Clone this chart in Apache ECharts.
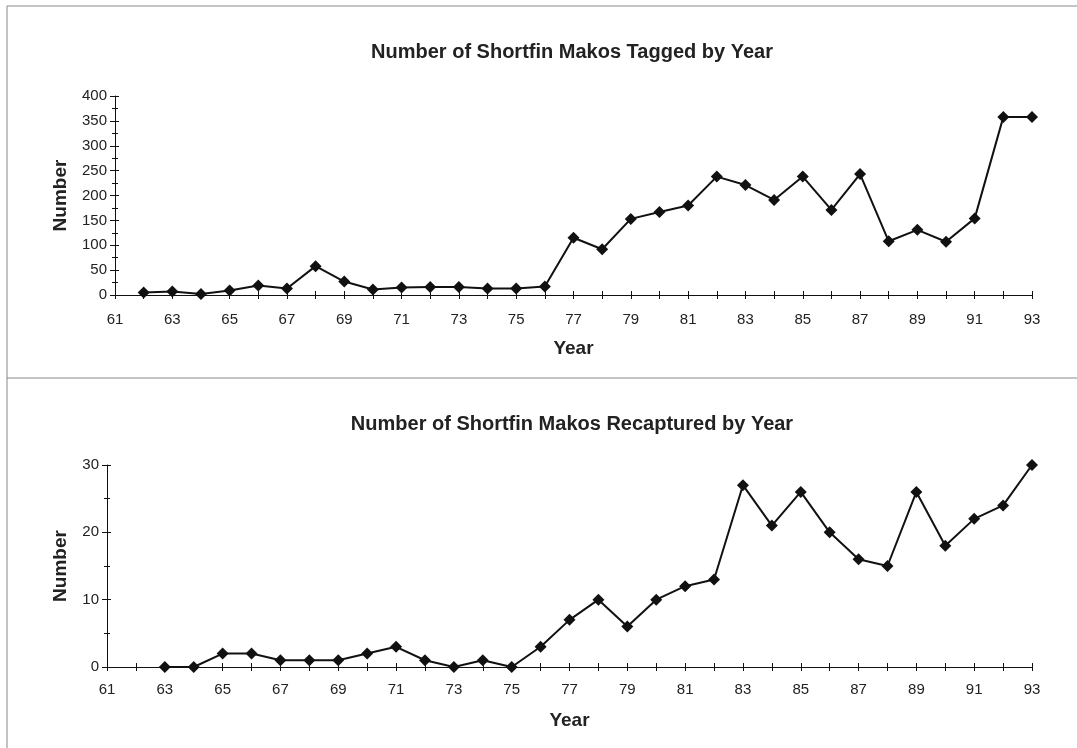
<!DOCTYPE html>
<html>
<head>
<meta charset="utf-8">
<script src="https://cdn.jsdelivr.net/npm/echarts@6/dist/echarts.min.js"></script>
<style>
html,body{margin:0;padding:0;background:#fff;}
#chart{width:1077px;height:748px;}
</style>
</head>
<body>
<div id="chart"></div>
<script>
const years = ['61','62','63','64','65','66','67','68','69','70','71','72','73','74','75','76','77','78','79','80','81','82','83','84','85','86','87','88','89','90','91','92','93'];
const tagged = [null,5,7,2,9,19,13,58,27,11,15,16,16,13,13,17,115,92,153,167,180,238,221,191,238,171,243,108,131,107,154,358,358];
const recaptured = [null,null,0,0,2,2,1,1,1,2,3,1,0,1,0,3,7,10,6,10,12,13,27,21,26,20,16,15,26,18,22,24,30];
const titles = ['Number of Shortfin Makos Tagged by Year','Number of Shortfin Makos Recaptured by Year'];
const xName = 'Year';
const yName = 'Number';

const FONT = 'Liberation Sans, Arial, sans-serif';
const chart = echarts.init(document.getElementById('chart'), null, {renderer:'canvas'});

function xAxes(grid,margin){
  return [
    {type:'category', gridIndex:grid, data:years, boundaryGap:false,
     axisLine:{lineStyle:{color:'#111',width:1}},
     axisTick:{show:true,interval:0,length:4,lineStyle:{color:'#111'}},
     axisLabel:{interval:1,color:'#222',fontSize:15,fontFamily:FONT,margin:margin},
     name:xName,nameLocation:'middle',nameGap:44,
     nameTextStyle:{fontWeight:'bold',fontSize:19,color:'#222',fontFamily:FONT},
     splitLine:{show:false}},
    {type:'category', gridIndex:grid, data:years, boundaryGap:false, position:'bottom',
     axisLine:{show:false},
     axisTick:{show:true,inside:true,interval:0,length:4,lineStyle:{color:'#111'}},
     axisLabel:{show:false}, splitLine:{show:false}}
  ];
}
function yAxes(grid,max,interval,minorSplit,gap){
  return [
    {type:'value', gridIndex:grid, min:0, max:max, interval:interval,
     axisLine:{show:true,lineStyle:{color:'#111',width:1}},
     axisTick:{show:true,length:5,lineStyle:{color:'#111'}},
     minorTick:{show:true,splitNumber:minorSplit,length:3,lineStyle:{color:'#111'}},
     axisLabel:{color:'#222',fontSize:15,fontFamily:FONT,margin:8},
     splitLine:{show:false},
     name:yName,nameLocation:'middle',nameGap:gap,
     nameTextStyle:{fontWeight:'bold',fontSize:19,color:'#222',fontFamily:FONT}},
    {type:'value', gridIndex:grid, min:0, max:max, interval:interval, position:'left',
     axisLine:{show:false},
     axisTick:{show:true,inside:true,length:4,lineStyle:{color:'#111'}},
     minorTick:{show:true,splitNumber:minorSplit,length:3,lineStyle:{color:'#111'}},
     axisLabel:{show:false}, splitLine:{show:false}}
  ];
}

const lineStyle = {color:'#111',width:2};
const option = {
  backgroundColor:'#fff',
  animation:false,
  title:[
    {text:titles[0],left:567,top:37,textAlign:'center',
     textStyle:{fontSize:20,fontWeight:'bold',color:'#222',fontFamily:FONT}},
    {text:titles[1],left:567,top:409,textAlign:'center',
     textStyle:{fontSize:20,fontWeight:'bold',color:'#222',fontFamily:FONT}}
  ],
  grid:[
    {left:115,top:96,width:917,height:199,containLabel:false},
    {left:107,top:465,width:925,height:202,containLabel:false}
  ],
  xAxis:[...xAxes(0,17),...xAxes(1,15)],
  yAxis:[...yAxes(0,400,50,2,45),...yAxes(1,30,10,2,37)],
  series:[
    {type:'line',xAxisIndex:0,yAxisIndex:0,data:tagged,symbol:'diamond',symbolSize:12,
     lineStyle:lineStyle,itemStyle:{color:'#111'},z:5},
    {type:'line',xAxisIndex:2,yAxisIndex:2,data:recaptured,symbol:'diamond',symbolSize:12,
     lineStyle:lineStyle,itemStyle:{color:'#111'},z:5}
  ],
  graphic:[
    {type:'line',shape:{x1:7,y1:6,x2:1077,y2:6},style:{stroke:'#888',lineWidth:1}},
    {type:'line',shape:{x1:7,y1:6,x2:7,y2:748},style:{stroke:'#888',lineWidth:1}},
    {type:'line',shape:{x1:7,y1:378,x2:1077,y2:378},style:{stroke:'#888',lineWidth:1}}
  ]
};
chart.setOption(option);
</script>
</body>
</html>
